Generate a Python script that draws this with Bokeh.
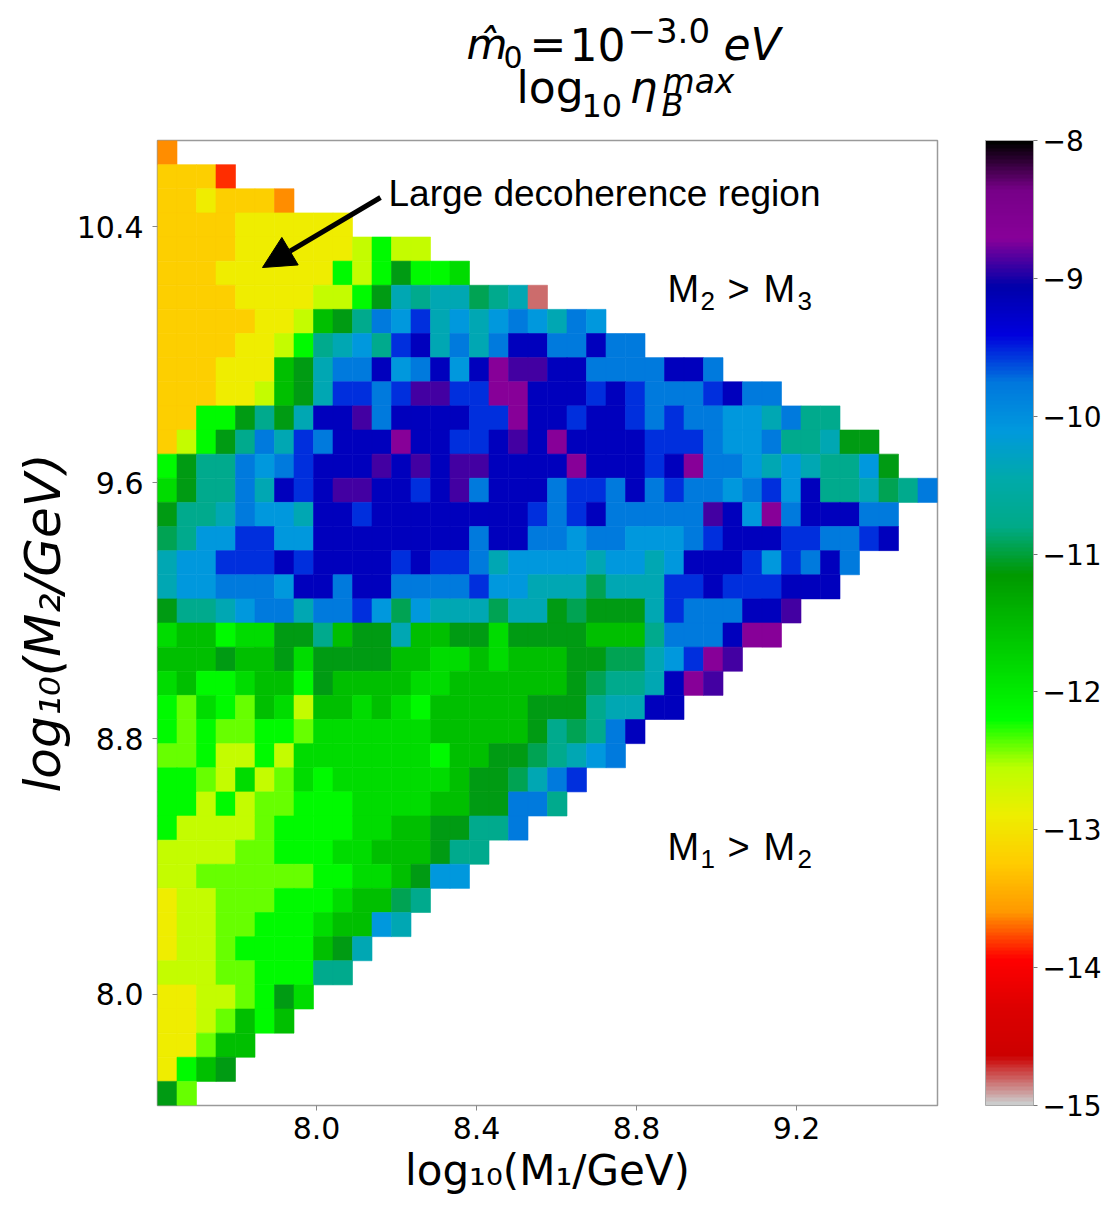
import numpy as np
from bokeh.plotting import figure
from bokeh.layouts import column
from bokeh.models import (ColumnDataSource, LinearColorMapper, ColorBar, FixedTicker,
                          Label, Arrow, NormalHead, Range1d, PrintfTickFormatter, AllLabels)
from bokeh.embed import file_html
from bokeh.resources import INLINE
from bokeh.transform import transform

# ---------------- values ----------------
X_RANGE = (7.6025, 9.5525)     # extent of log10(M1/GeV)
Y_RANGE = (7.653, 10.669)      # extent of log10(M2/GeV)
N_COLS = 40
N_ROWS = 40

X_TICKS = [8.0, 8.4, 8.8, 9.2]
Y_TICKS = [8.0, 8.8, 9.6, 10.4]
CBAR_TICKS = [-8, -9, -10, -11, -12, -13, -14, -15]
CBAR_LOW, CBAR_HIGH = -15, -8

# colour-level codes -> log10 eta_B^max
LEVELS = {
    "P": -14.83, "R": -13.85, "O": -13.62, "Y": -13.2, "y": -12.9, "L": -12.6,
    "l": -12.38, "G": -12.15, "g": -11.85, "m": -11.55, "d": -11.1, "e": -10.95,
    "t": -10.75, "c": -10.4, "b": -10.1, "s": -9.8, "B": -9.55, "D": -9.2,
    "i": -8.9, "p": -8.7,
}

# one string per grid row, top row (largest M2) first; missing cells are absent
ROWS = [
    "O",
    "YYYR",
    "YYyYYYO",
    "YYYYyyyyyy",
    "YYYYyyyyyyLGLL",
    "YYYyyyyyyGLGdGGg",
    "YYYYyyyyLLGdctccetcP",
    "YYYYYyyLmdtsbBcbcbsbcsb",
    "YYYYyyLGtcbtBDcscsDDssDss",
    "YYYyyymdcssDbsDbDpiiDDssssDDs",
    "YYYyyLmdcBBsBiiBBppDDDBDBsssBDss",
    "YYGGdtdcDDisDDDDBBpDDBDDBsBssbbcstt",
    "YLGdtscBsDDDpDDBBDiDpDDDDBBBsbbsttcdd",
    "GdttsbsBDDDiDiDiiDDDDpDDDBDpssbcbcttbd",
    "gdttscDBDiiDDBDisDDDsBBsDsBssbsBbDttcets",
    "dttcsbbcDDBDDDDDDDDBsBDsssssiDbpsDDDss",
    "etbbBBbbDDDDDDDDsDDssbssbbbsBDDDBBssBD",
    "cbbBBBDBDDDDBDBBscbbbbcbbcbDDDBbBsDs",
    "cbbsssbDDsDDssssBbbcccecccBBDBBBDDD",
    "dttcbsscssBbebccceccdedddcBsssDDi",
    "gmmGggddtmddcmmddgddddmmmtsssDpp",
    "mmmdmmdgddddmmggmgmmmddeecbBpi",
    "gmGGgmmGdmmmmggmmmmmmdettcDpi",
    "GlgGlmgLmmgmgGmmmmmdddtccDD",
    "GlGllGGlggggggmmmmmdtetsD",
    "llGLLGLgggggggGmmddetcbs",
    "GGlLgLlgGggggggmddecsB",
    "GGLGLllGGGggggmmddsst",
    "GLLLLlGGGGggmmddtts",
    "LLLLllGGGggmmmdtt",
    "LLllllllGGggmdbb",
    "yLLlllGGGgmmet",
    "yLLllGGGgmmbc",
    "yLLlGGGGmdc",
    "LLLllGGGtt",
    "yyLLlGdg",
    "yyLlmGm",
    "yylmm",
    "yGmd",
    "dl",
]

TITLE_1 = ["m\u0302", "0", "=", "10", "\u22123.0", "eV"]
TITLE_2 = ["log", "10", "\u03b7", "B", "max"]
X_LABEL = "log\u2081\u2080(M\u2081/GeV)"
Y_LABEL = "log\u2081\u2080(M\u2082/GeV)"
NOTE = "Large decoherence region"
REGION_UP = ["M", "2", ">", "M", "3"]
REGION_DOWN = ["M", "1", ">", "M", "2"]

# ---------------- colour map (nipy_spectral, reversed) ----------------
_POS = np.linspace(0.0, 1.0, 21)
_R = [0, .4667, .5333, 0, 0, 0, 0, 0, 0, 0, 0, 0, 0, .7333, .9333, 1, 1, 1, .8667, .8, .8]
_G = [0, 0, 0, 0, 0, .4667, .6, .6667, .6667, .6, .7333, .8667, 1, 1, .9333, .8, .6, 0, 0, 0, .8]
_B = [0, .5333, .6, .6667, .8667, .8667, .8667, .6667, .5333, 0, 0, 0, 0, 0, 0, 0, 0, 0, 0, 0, .8]
palette = []
for k in range(256):
    pos = 1.0 - k / 255.0
    r, g, b = (np.interp(pos, _POS, ch) for ch in (_R, _G, _B))
    palette.append("#%02x%02x%02x" % (int(round(r * 255)), int(round(g * 255)), int(round(b * 255))))

mapper = LinearColorMapper(palette=palette, low=CBAR_LOW, high=CBAR_HIGH)

# ---------------- cells ----------------
x_edges = np.linspace(X_RANGE[0], X_RANGE[1], N_COLS + 1)
y_edges = np.linspace(Y_RANGE[1], Y_RANGE[0], N_ROWS + 1)   # top -> bottom
left, right, top, bottom, val = [], [], [], [], []
for i, row in enumerate(ROWS):
    for j, ch in enumerate(row):
        if ch in LEVELS:
            left.append(x_edges[j]); right.append(x_edges[j + 1])
            top.append(y_edges[i]); bottom.append(y_edges[i + 1])
            val.append(LEVELS[ch])
src = ColumnDataSource(dict(left=left, right=right, top=top, bottom=bottom, val=val))

FRAME_L, FRAME_T, FRAME_W, FRAME_H = 157, 140, 780, 965
TITLE_H = 126
FIG_W = 1104
BORDER_R = FIG_W - FRAME_L - FRAME_W
CB_GAP = 48

p = figure(frame_width=FRAME_W, frame_height=FRAME_H,
           x_range=Range1d(*X_RANGE), y_range=Range1d(*Y_RANGE),
           output_backend="svg", toolbar_location=None,
           min_border_left=FRAME_L, min_border_top=FRAME_T - TITLE_H,
           min_border_bottom=95, min_border_right=BORDER_R)
p.grid.visible = False
p.outline_line_color = "#9a9a9a"
p.outline_line_width = 1.5

p.quad(left="left", right="right", top="top", bottom="bottom", source=src,
       fill_color=transform("val", mapper), line_color=transform("val", mapper), line_width=0.6)

for ax in (p.xaxis[0], p.yaxis[0]):
    ax.major_label_text_font = "DejaVu Sans"
    ax.major_label_text_font_size = "30px"
    ax.major_label_text_color = "black"
    ax.axis_label_text_font = "DejaVu Sans"
    ax.axis_label_text_color = "black"
    ax.major_tick_out = 5
    ax.major_tick_in = 0
    ax.major_tick_line_color = "#888888"
    ax.minor_tick_line_color = None
    ax.axis_line_color = None
    ax.formatter = PrintfTickFormatter(format="%.1f")
p.xaxis.ticker = FixedTicker(ticks=X_TICKS)
p.yaxis.ticker = FixedTicker(ticks=Y_TICKS)
p.xaxis.major_label_standoff = 6
p.yaxis.major_label_standoff = 9
p.xaxis.axis_label = X_LABEL
p.xaxis.axis_label_text_font_size = "42px"
p.xaxis.axis_label_text_font_style = "normal"
p.xaxis.axis_label_standoff = 4
p.yaxis.axis_label = Y_LABEL
p.yaxis.axis_label_text_font_size = "50px"
p.yaxis.axis_label_text_font_style = "italic"
p.yaxis.axis_label_standoff = 2

cb = ColorBar(color_mapper=mapper, ticker=FixedTicker(ticks=CBAR_TICKS),
              major_label_overrides={t: "\u2212%d" % abs(t) for t in CBAR_TICKS},
              major_label_policy=AllLabels(), location=(CB_GAP, 0),
              width=48, height=FRAME_H, padding=0, margin=0,
              major_label_text_font="DejaVu Sans", major_label_text_font_size="28px",
              major_label_text_color="black", label_standoff=5,
              major_tick_out=4, major_tick_in=0, major_tick_line_color="#777777",
              minor_tick_line_color=None, bar_line_color="#aaaaaa",
              border_line_color=None, background_fill_alpha=0)
p.add_layout(cb, "right")

# ---------------- annotations (placed by reference pixel; y given as text baseline) ----------------
def dx(px):
    return X_RANGE[0] + (px - FRAME_L) * (X_RANGE[1] - X_RANGE[0]) / FRAME_W

def dy(py):
    return Y_RANGE[1] - (py - FRAME_T) * (Y_RANGE[1] - Y_RANGE[0]) / FRAME_H

def put(fig, px, base_py, text, size, style="normal", font="DejaVu Sans", conv=True):
    mid_py = base_py - 0.35 * size
    x, y = (dx(px), dy(mid_py)) if conv else (px, mid_py)
    fig.add_layout(Label(x=x, y=y, text=text, text_font=font, text_font_size="%dpx" % size,
                         text_font_style=style, text_align="left", text_baseline="middle",
                         text_color="black"))

put(p, 388, 206, NOTE, 37, font="Liberation Sans")
reg_pos = [(667, 0, 38), (700, 8, 26), (727, 0, 38), (763, 0, 38), (797, 8, 26)]
for base_y, pieces in ((302, REGION_UP), (860, REGION_DOWN)):
    for txt, (px, off, sz) in zip(pieces, reg_pos):
        put(p, px, base_y + off, txt, sz, font="Liberation Sans")

p.add_layout(Arrow(end=NormalHead(size=32, fill_color="black", line_color="black"),
                   x_start=dx(380), y_start=dy(197), x_end=dx(262), y_end=dy(267),
                   line_color="black", line_width=5))

# ---------------- title strip: frame aligned with the main frame, pixel coordinates ----------------
tf = figure(frame_width=FRAME_W, frame_height=TITLE_H,
            x_range=Range1d(FRAME_L, FRAME_L + FRAME_W), y_range=Range1d(TITLE_H, 0),
            output_backend="svg", toolbar_location=None,
            min_border_left=FRAME_L, min_border_right=BORDER_R, min_border_top=0, min_border_bottom=0,
            x_axis_location=None, y_axis_location=None)
tf.grid.visible = False
tf.outline_line_color = None

t1_pos = [(466, 59, 42, "italic"), (503, 67, 30, "normal"), (529, 59, 44, "normal"),
          (569, 59, 44, "normal"), (627, 42, 34, "normal"), (723, 59, 44, "italic")]
for txt, (px, py, sz, st) in zip(TITLE_1, t1_pos):
    put(tf, px, py, txt, sz, st, conv=False)
t2_pos = [(516, 102, 44, "normal"), (581, 116, 32, "normal"), (629, 102, 44, "italic"),
          (661, 116, 32, "italic"), (662, 93, 33, "italic")]
for txt, (px, py, sz, st) in zip(TITLE_2, t2_pos):
    put(tf, px, py, txt, sz, st, conv=False)

layout = column(tf, p, spacing=0)
open("out.html", "w").write(file_html(layout, INLINE))
